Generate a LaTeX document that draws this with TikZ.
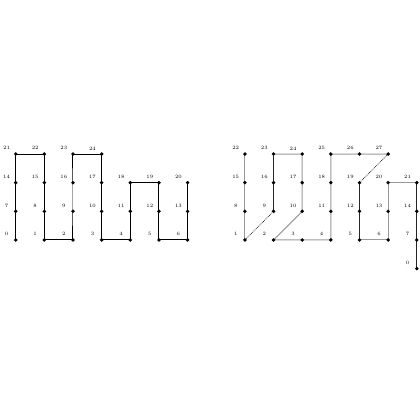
\documentclass[tikz,border=0pt]{standalone}
\usetikzlibrary{backgrounds}
\begin{document}
\begin{tikzpicture}[x=28.65pt,y=28.65pt,
 dot/.style={circle,fill=black,inner sep=0pt,minimum size=3.8pt},
 lbl/.style={font=\fontsize{5}{6}\selectfont, inner sep=0pt},
 blk/.style={line width=1pt},
 gry/.style={line width=1pt, black!40},
 drk/.style={line width=0.7pt, black!85},
 dtd/.style={line width=0.7pt, densely dotted}]
\useasboundingbox (-0.548,-6.283) rectangle (14.112,8.377);
% left grid
\foreach \n in {0,...,24} {
  \pgfmathtruncatemacro\c{mod(\n,7)}
  \pgfmathtruncatemacro\r{div(\n,7)}
  \node[dot] (L\n) at (\c,\r) {};
  \node[lbl] (LL\n) at ([shift={(-0.32,0.2)}]L\n.center) {\n};
}
% right grid
\node[dot] (R0) at (14,-1) {};
\node[lbl] (RL0) at ([shift={(-0.32,0.2)}]R0.center) {0};
\foreach \n in {1,...,27} {
  \pgfmathtruncatemacro\c{8+mod(\n-1,7)}
  \pgfmathtruncatemacro\r{div(\n-1,7)}
  \node[dot] (R\n) at (\c,\r) {};
  \node[lbl] (RL\n) at ([shift={(-0.32,0.2)}]R\n.center) {\n};
}
\begin{scope}[on background layer]
% left path
\draw[blk] (L0.center) -- (L7.center) -- (L14.center) -- (L21.center) -- (L22.center) -- (L15.center) -- (L8.center) -- (L1.center) -- (L2.center) -- (L9.center) -- (L16.center) -- (L23.center) -- (L24.center) -- (L17.center) -- (L10.center) -- (L3.center) -- (L4.center) -- (L11.center) -- (L18.center) -- (L19.center) -- (L12.center) -- (L5.center) -- (L6.center) -- (L13.center) -- (L20.center);
% right paths
\draw[gry] (R22.center) -- (R15.center) -- (R8.center) -- (R1.center);
\draw[gry] (R23.center) -- (R24.center) -- (R17.center) -- (R10.center) -- (R2.center) -- (R3.center) -- (R4.center) -- (R11.center) -- (R18.center) -- (R25.center) -- (R26.center) -- (R27.center);
\draw[gry] (R5.center) -- (R6.center) -- (R13.center) -- (R20.center) -- (R21.center);
\draw[drk] (R23.center) -- (R16.center) -- (R9.center);
\draw[drk] (R19.center) -- (R12.center) -- (R5.center);
\draw[drk] (R21.center) -- (R14.center) -- (R7.center) -- (R0.center);
\draw[dtd] (R1) -- (R9);
\draw[dtd] (R27) -- (R19);
\end{scope}
\end{tikzpicture}
\end{document}
